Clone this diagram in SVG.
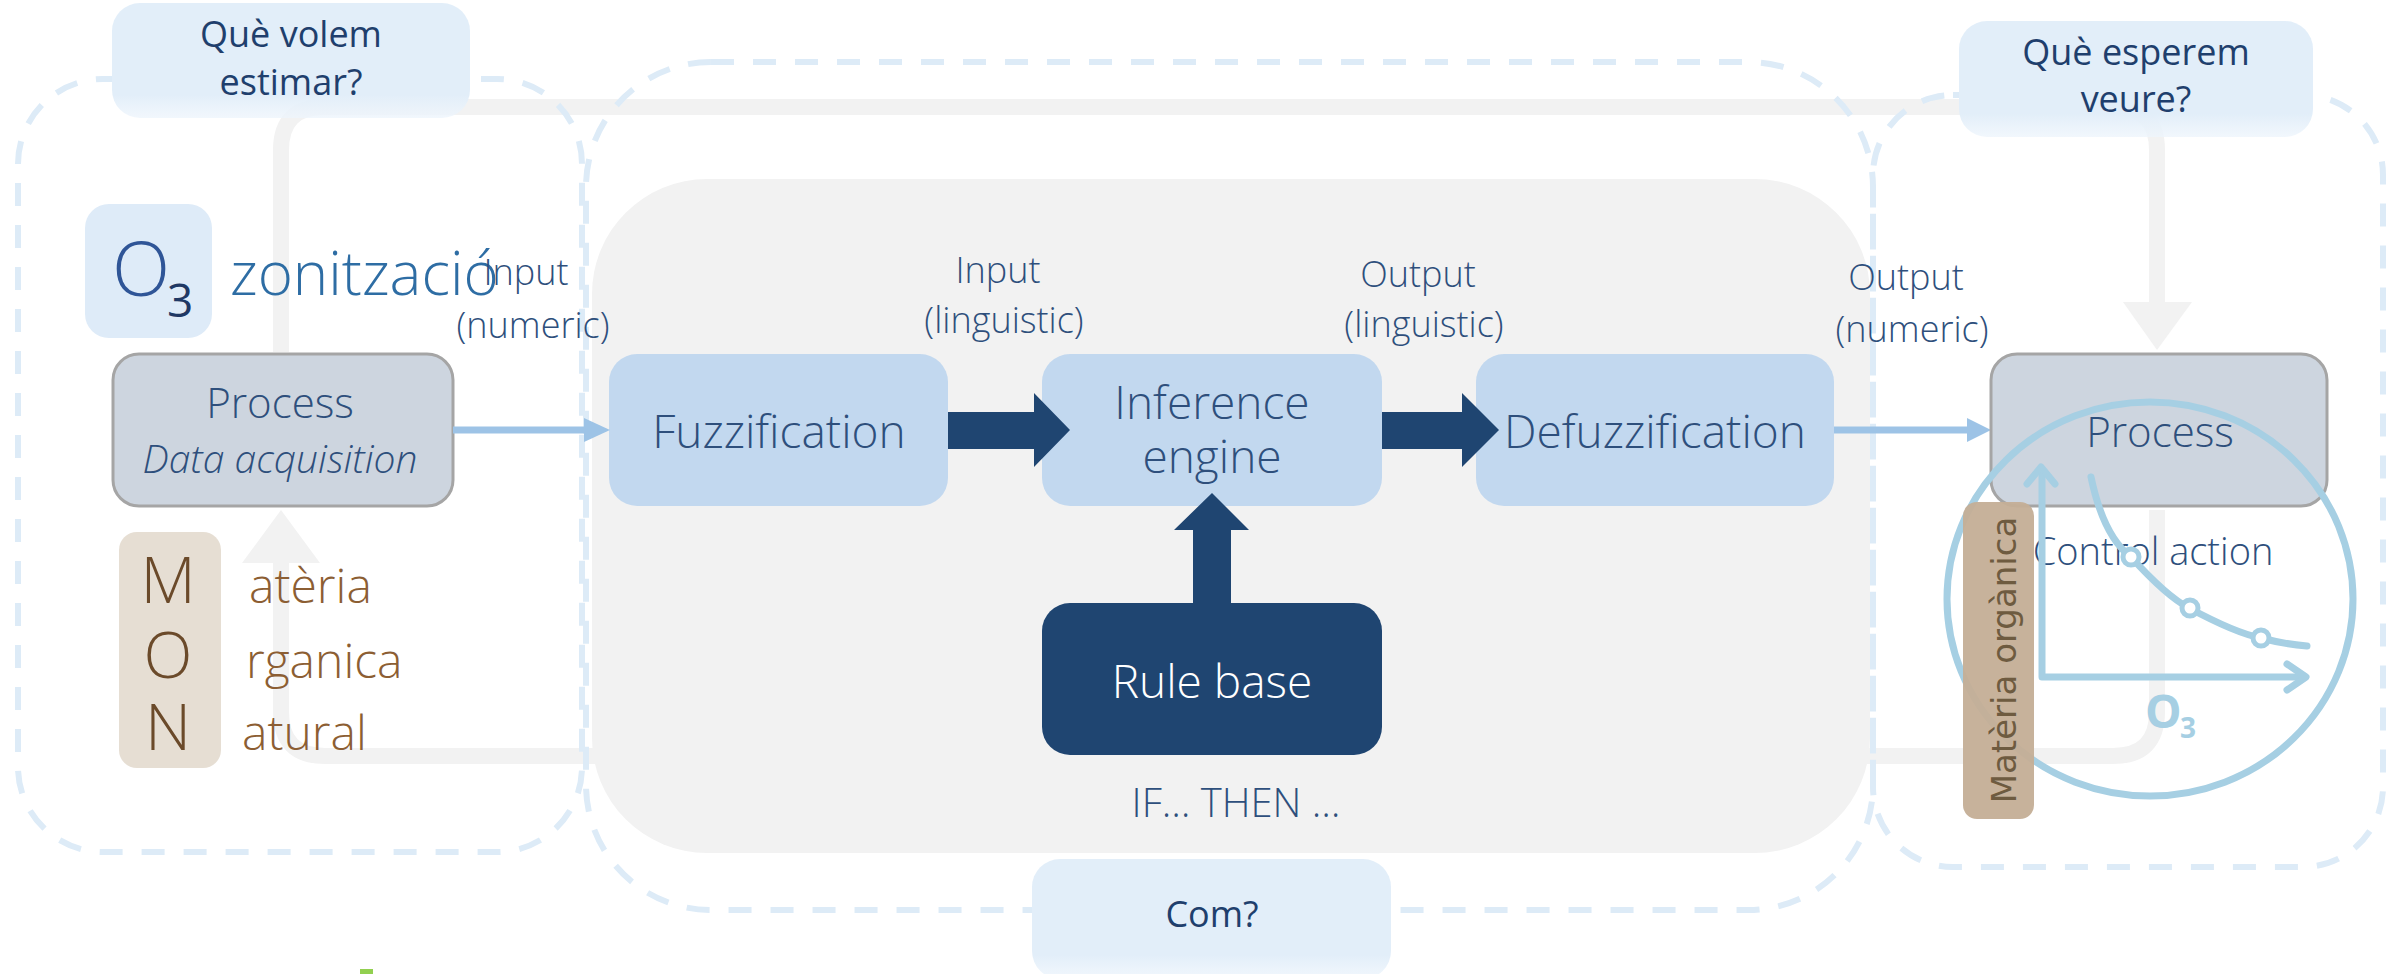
<svg xmlns="http://www.w3.org/2000/svg" width="2407" height="974" viewBox="0 0 2407 974">
<style>
.t{font-family:"Segoe UI Light","Segoe UI","Open Sans","Noto Sans","DejaVu Sans",sans-serif;font-weight:300;fill:#2E4F7C;}
.q{font-family:"Segoe UI","Open Sans","Noto Sans","DejaVu Sans",sans-serif;font-weight:400;fill:#1F3F6D;font-size:36px;}
.dash{fill:none;stroke:#DDEBF7;stroke-width:6;stroke-dasharray:23 19;}
.box{fill:#C2D8EF;}
.proc{fill:#CDD5DF;stroke:#A5A5A5;stroke-width:3;}
.dark{fill:#1F4571;}
.loop{fill:none;stroke:#F2F2F2;stroke-width:16;}
.thin{fill:none;stroke:#9DC3E6;stroke-width:7;}
.graph{fill:none;stroke:#A6CFE3;stroke-width:7;stroke-linecap:round;stroke-linejoin:round;}
</style>
<defs>
<linearGradient id="qg" x1="0" y1="0" x2="0" y2="1">
<stop offset="0" stop-color="#E2EEF9"/>
<stop offset="0.8" stop-color="#E2EEF9"/>
<stop offset="1" stop-color="#EEF5FC" stop-opacity="0.8"/>
</linearGradient>
</defs>
<rect width="2407" height="974" fill="#FFFFFF"/>

<g id="grey-panel"><rect x="592" y="179" width="1278" height="674" rx="115" ry="115" fill="#F2F2F2"/></g>

<g id="connectors">
<path class="loop" d="M281 352 L281 150 Q281 107 324 107 L2114 107 Q2157 107 2157 150 L2157 304"/>
<polygon points="2123,302 2192,302 2157,350" fill="#F2F2F2"/>
<path class="loop" d="M2157 510 L2157 712 Q2157 756 2113 756 L325 756 Q281 756 281 712 L281 561"/>
<polygon points="242,563 320,563 281,510" fill="#F2F2F2"/>
</g>

<g id="regions">
<rect class="dash" x="18" y="79" width="564" height="773" rx="85" ry="85"/>
<rect class="dash" x="586" y="62" width="1287" height="848" rx="125" ry="125"/>
<rect class="dash" x="1873" y="95" width="510" height="772" rx="80" ry="80"/>
</g>

<g id="q-estimar">
<rect x="112" y="3" width="358" height="115" rx="28" fill="url(#qg)"/>
<text class="q" x="291" y="47" text-anchor="middle">Què volem</text>
<text class="q" x="291" y="95" text-anchor="middle">estimar?</text>
</g>

<g id="q-veure">
<rect x="1959" y="21" width="354" height="116" rx="28" fill="url(#qg)"/>
<text class="q" x="2136" y="65" text-anchor="middle">Què esperem</text>
<text class="q" x="2136" y="112" text-anchor="middle">veure?</text>
</g>

<g id="q-com">
<rect x="1032" y="859" width="359" height="120" rx="28" fill="url(#qg)"/>
<text class="q" x="1212" y="927" text-anchor="middle">Com?</text>
</g>

<g id="ozonitzacio">
<rect x="85" y="204" width="127" height="134" rx="24" fill="#DEEBF8"/>
<text class="t" x="112" y="296" font-size="76" style="fill:#2F5597">O</text>
<text class="t" x="167" y="317" font-size="46" style="fill:#1F3864;font-weight:400">3</text>
<text class="t" x="230" y="295" font-size="60" style="fill:#2E6DA4">zonització</text>
</g>

<g id="process-left">
<rect class="proc" x="113" y="354" width="340" height="152" rx="26"/>
<text class="t" x="280" y="418" font-size="42" text-anchor="middle">Process</text>
<text class="t" x="280" y="473" font-size="39" text-anchor="middle" font-style="italic">Data acquisition</text>
</g>

<g id="mon">
<rect x="119" y="532" width="102" height="236" rx="18" fill="#E6DED3"/>
<text class="t" x="168" y="603" font-size="64" text-anchor="middle" style="fill:#6B4A2A">M</text>
<text class="t" x="168" y="678" font-size="64" text-anchor="middle" style="fill:#6B4A2A">O</text>
<text class="t" x="168" y="750" font-size="64" text-anchor="middle" style="fill:#6B4A2A">N</text>
<text class="t" x="249" y="603" font-size="48" style="fill:#8C5E33">atèria</text>
<text class="t" x="246" y="678" font-size="48" style="fill:#8C5E33">rganica</text>
<text class="t" x="242" y="750" font-size="48" style="fill:#8C5E33">atural</text>
</g>

<g id="labels">
<text class="t" font-size="36" text-anchor="middle"><tspan x="526" y="285">Input</tspan><tspan x="533" y="338">(numeric)</tspan></text>
<text class="t" font-size="36" text-anchor="middle"><tspan x="998" y="283">Input</tspan><tspan x="1004" y="333">(linguistic)</tspan></text>
<text class="t" font-size="36" text-anchor="middle"><tspan x="1418" y="287">Output</tspan><tspan x="1424" y="337">(linguistic)</tspan></text>
<text class="t" font-size="36" text-anchor="middle"><tspan x="1906" y="290">Output</tspan><tspan x="1912" y="342">(numeric)</tspan></text>
<text class="t" x="1236" y="817" font-size="40" text-anchor="middle">IF… THEN …</text>
</g>

<g id="fuzzification">
<rect class="box" x="609" y="354" width="339" height="152" rx="28"/>
<text class="t" x="779" y="448" font-size="46" text-anchor="middle">Fuzzification</text>
</g>

<g id="inference">
<rect class="box" x="1042" y="354" width="340" height="152" rx="28"/>
<text class="t" font-size="46" text-anchor="middle"><tspan x="1212" y="419">Inference</tspan><tspan x="1212" y="473">engine</tspan></text>
</g>

<g id="defuzzification">
<rect class="box" x="1476" y="354" width="358" height="152" rx="28"/>
<text class="t" x="1655" y="448" font-size="46" text-anchor="middle">Defuzzification</text>
</g>

<g id="rule-base">
<rect class="dark" x="1042" y="603" width="340" height="152" rx="28"/>
<text class="t" x="1212" y="698" font-size="46" text-anchor="middle" style="fill:#FFFFFF">Rule base</text>
</g>

<g id="arrows">
<polygon class="dark" points="948,412 1034,412 1034,393 1070,430 1034,467 1034,449 948,449"/>
<polygon class="dark" points="1382,412 1462,412 1462,393 1499,430 1462,467 1462,449 1382,449"/>
<polygon class="dark" points="1193,603 1193,530 1174,530 1212,493 1249,530 1231,530 1231,603"/>
<line class="thin" x1="453" y1="430" x2="586" y2="430"/>
<polygon points="584,418 610,430 584,442" fill="#9DC3E6"/>
<line class="thin" x1="1834" y1="430" x2="1969" y2="430"/>
<polygon points="1967,418 1991,430 1967,442" fill="#9DC3E6"/>
</g>

<g id="process-right">
<rect class="proc" x="1991" y="354" width="336" height="152" rx="26"/>
<text class="t" x="2160" y="447" font-size="42" text-anchor="middle">Process</text>
</g>

<g id="control-graph">
<text class="t" x="2153" y="565" font-size="38" text-anchor="middle">Control action</text>
<ellipse class="graph" cx="2150" cy="599" rx="203" ry="197"/>
<polyline class="graph" points="2042,470 2042,677 2305,677"/>
<polyline class="graph" points="2027,484 2041,467 2055,484"/>
<polyline class="graph" points="2287,664 2306,677 2287,690"/>
<path class="graph" d="M2091 477 C2100 520 2115 545 2131 557 C2150 578 2170 598 2189 608 C2215 622 2240 634 2261 638 C2280 643 2295 645 2307 646"/>
<circle cx="2131" cy="557" r="8" fill="#FFFFFF" stroke="#A6CFE3" stroke-width="5"/>
<circle cx="2190" cy="608" r="8" fill="#FFFFFF" stroke="#A6CFE3" stroke-width="5"/>
<circle cx="2261" cy="638" r="8" fill="#FFFFFF" stroke="#A6CFE3" stroke-width="5"/>
<text x="2145" y="728" font-family="Segoe UI, Open Sans, Noto Sans, sans-serif" font-weight="700" font-size="46" fill="#A6CFE3">O</text>
<text x="2180" y="738" font-family="Segoe UI, Open Sans, Noto Sans, sans-serif" font-weight="700" font-size="28" fill="#A6CFE3">3</text>
</g>

<g id="materia-organica">
<rect x="1963" y="502" width="71" height="317" rx="14" fill="#C4AE96" fill-opacity="0.95"/>
<text x="0" y="0" transform="translate(2016 660) rotate(-90)" text-anchor="middle" font-family="DejaVu Sans, sans-serif" font-size="34" fill="#6E5B40">Matèria orgànica</text>
</g>

<rect x="360" y="969" width="13" height="5" fill="#92D050"/>
</svg>
